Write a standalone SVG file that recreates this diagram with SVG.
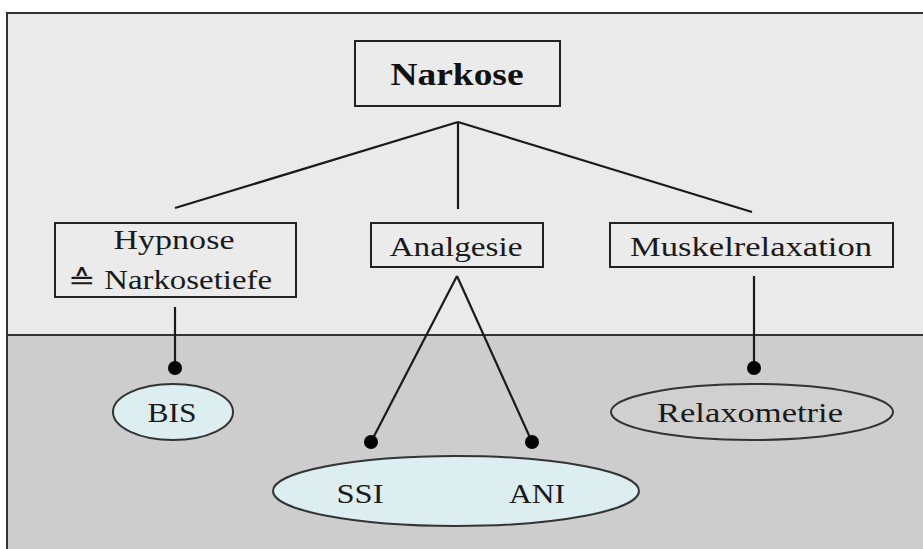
<svg xmlns="http://www.w3.org/2000/svg" width="923" height="549" viewBox="0 0 923 549">
<style>
.box{fill:#ebebeb;stroke:#222;stroke-width:2}
.lbl{font-family:"Liberation Serif",serif;font-size:27px;fill:#1a1a1a;text-anchor:middle}
.title{font-family:"Liberation Serif",serif;font-size:31px;font-weight:bold;fill:#111;text-anchor:middle}
.con line{stroke:#1a1a1a;stroke-width:2.2}
.con circle{fill:#000}
.ell{stroke:#333;stroke-width:2}
</style>
<rect x="0" y="0" width="923" height="549" fill="#ffffff"/>
<rect x="7" y="13" width="930" height="322" fill="#eaeaea"/>
<rect x="7" y="335" width="930" height="220" fill="#cdcdcd"/>
<path d="M7,560 V13 H930" fill="none" stroke="#333" stroke-width="2"/>
<line x1="7" y1="335" x2="923" y2="335" stroke="#333" stroke-width="2"/>
<g class="con">
<line x1="458" y1="122" x2="175" y2="208"/>
<line x1="458" y1="122" x2="458" y2="209"/>
<line x1="458" y1="122" x2="752" y2="212"/>
<line x1="175" y1="307" x2="175" y2="368"/>
<circle cx="175" cy="368" r="7"/>
<line x1="457" y1="276" x2="371" y2="442"/>
<line x1="457" y1="276" x2="532" y2="442"/>
<circle cx="371" cy="442" r="7"/>
<circle cx="532" cy="442" r="7"/>
<line x1="754" y1="276" x2="754" y2="368"/>
<circle cx="754" cy="368" r="7"/>
</g>
<g id="narkose">
<rect class="box" x="355" y="41" width="205" height="65"/>
<text class="title" x="457" y="85" textLength="133" lengthAdjust="spacingAndGlyphs">Narkose</text>
</g>
<g id="hypnose">
<rect class="box" x="55" y="223" width="241" height="74"/>
<text class="lbl" x="174" y="249" textLength="121" lengthAdjust="spacingAndGlyphs">Hypnose</text>
<text class="lbl" x="170" y="289" textLength="204" lengthAdjust="spacingAndGlyphs">≙ Narkosetiefe</text>
</g>
<g id="analgesie">
<rect class="box" x="371" y="223" width="172" height="44"/>
<text class="lbl" x="456" y="256" textLength="133" lengthAdjust="spacingAndGlyphs">Analgesie</text>
</g>
<g id="muskel">
<rect class="box" x="610" y="223" width="283" height="44"/>
<text class="lbl" x="751" y="256" textLength="242" lengthAdjust="spacingAndGlyphs">Muskelrelaxation</text>
</g>
<g id="bis">
<ellipse class="ell" cx="173" cy="412" rx="60" ry="28" fill="#ddeef0"/>
<text class="lbl" x="172" y="422" textLength="49" lengthAdjust="spacingAndGlyphs">BIS</text>
</g>
<g id="ssi-ani">
<ellipse class="ell" cx="456" cy="491" rx="183" ry="35" fill="#ddeef0"/>
<text class="lbl" x="360" y="503" textLength="47" lengthAdjust="spacingAndGlyphs">SSI</text>
<text class="lbl" x="537" y="503" textLength="56" lengthAdjust="spacingAndGlyphs">ANI</text>
</g>
<g id="relax">
<ellipse class="ell" cx="752" cy="412" rx="141" ry="28" fill="#d0d0d0"/>
<text class="lbl" x="750" y="422" textLength="186" lengthAdjust="spacingAndGlyphs">Relaxometrie</text>
</g>
</svg>
